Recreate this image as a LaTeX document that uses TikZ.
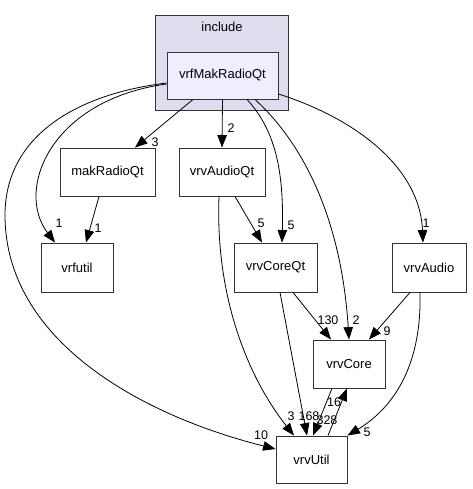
\documentclass[tikz,border=0pt]{standalone}
\usepackage{fontspec}
\setmainfont{Liberation Sans}
\usetikzlibrary{arrows.meta}
\definecolor{clusterfill}{HTML}{DDDDEE}
\definecolor{dirfill}{HTML}{EEEEFF}

\begin{document}
\begin{tikzpicture}[x=1pt, y=-1pt, >={Triangle[length=12.5pt,width=9.5pt]},
  dir/.style={draw=black!80, line width=0.9pt, fill=white, inner sep=0pt,
    minimum height=48pt, font=\fontsize{13}{13}\selectfont},
  cnt/.style={font=\fontsize{12.5}{12.5}\selectfont, inner sep=0pt},
  dep/.style={->, line width=0.8pt}]
  \useasboundingbox (0,0) rectangle (472,489);
  % cluster
  \node[draw=black!80, line width=0.9pt, fill=clusterfill, minimum width=133pt,
    minimum height=95pt, inner sep=0pt] (incl) at (221.5,62.5) {};
  \node[cnt, font=\fontsize{13}{13}\selectfont] (incllbl) at (222,27) {include};
  % directories
  \node[dir, fill=dirfill, minimum width=111pt, minimum height=47pt] (vrfmak) at (222.5,75.5) {vrfMakRadioQt};
  \node[dir, minimum width=95pt] (mak) at (107.5,172) {makRadioQt};
  \node[dir, minimum width=86pt] (audioqt) at (222,172) {vrvAudioQt};
  \node[dir, minimum width=72pt, minimum height=49pt] (vrfutil) at (77,267.5) {vrfutil};
  \node[dir, minimum width=83pt, minimum height=49pt] (coreqt) at (275.5,267.5) {vrvCoreQt};
  \node[dir, minimum width=74pt, minimum height=49pt] (vrvaudio) at (429,267.5) {vrvAudio};
  \node[dir, minimum width=72pt] (vrvcore) at (349,364) {vrvCore};
  \node[dir, minimum width=71pt, minimum height=47pt] (vrvutil) at (311.5,459.5) {vrvUtil};
  % dependencies of vrfMakRadioQt
  \draw[dep] ([xshift=-29.5pt]vrfmak.south) -- ([xshift=27.5pt]mak.north);
  \draw[dep] (vrfmak.south) -- (audioqt.north);
  \draw[dep] ([yshift=-8.5pt]vrfmak.west) .. controls (50,100) and (15,190) .. ([xshift=-22pt]vrfutil.north);
  \draw[dep] ([yshift=-7.5pt]vrfmak.west) .. controls (70,95) and (5,140) .. (5,215)
    .. controls (5,340) and (140,415) .. ([yshift=10.5pt]vrvutil.west);
  \draw[dep] ([xshift=24.5pt]vrfmak.south) .. controls (275,130) and (284,170) .. ([xshift=6.5pt]coreqt.north);
  \draw[dep] ([xshift=32.5pt]vrfmak.south) .. controls (310,150) and (342,230) .. (vrvcore.north);
  \draw[dep] ([yshift=-18.5pt]vrfmak.east) .. controls (360,120) and (420,170) .. ([xshift=-6pt]vrvaudio.north);
  % the others
  \draw[dep] ([xshift=-8.5pt]mak.south) -- ([xshift=9pt]vrfutil.north);
  \draw[dep] ([xshift=13pt]audioqt.south) -- ([xshift=-13.5pt]coreqt.north);
  \draw[dep] ([xshift=-3pt]audioqt.south) .. controls (215,300) and (250,380) .. ([xshift=-17.5pt]vrvutil.north);
  \draw[dep] ([xshift=17.5pt]coreqt.south) -- ([xshift=-18pt]vrvcore.north);
  \draw[dep] ([xshift=4.5pt]coreqt.south) -- ([xshift=-4.5pt]vrvutil.north);
  \draw[dep] ([xshift=-19pt]vrvaudio.south) -- ([xshift=20pt]vrvcore.north);
  \draw[dep] ([xshift=-9pt]vrvaudio.south) .. controls (422,370) and (390,410) .. (vrvutil.north east);
  \draw[dep] ([xshift=-17pt]vrvcore.south) -- ([xshift=1.5pt]vrvutil.north);
  \draw[dep] ([xshift=16.5pt]vrvutil.north) -- ([xshift=-2pt]vrvcore.south);
  % counts
  \node[cnt] (n1) at (155,142) {3};
  \node[cnt] (n2) at (231,128) {2};
  \node[cnt] (n3) at (59,223) {1};
  \node[cnt] (n4) at (98,228) {1};
  \node[cnt] (n5) at (291,225) {5};
  \node[cnt] (n6) at (426,223) {1};
  \node[cnt] (n7) at (261,223) {5};
  \node[cnt] (n8) at (356,320) {2};
  \node[cnt] (n9) at (328,320) {130};
  \node[cnt] (n10) at (387,331) {9};
  \node[cnt] (n11) at (291,416) {3};
  \node[cnt] (n12) at (309,416) {168};
  \node[cnt] (n13) at (327,420) {328};
  \node[cnt] (n14) at (334,402) {16};
  \node[cnt] (n15) at (261,435) {10};
  \node[cnt] (n16) at (367,432) {5};
\end{tikzpicture}
\end{document}
